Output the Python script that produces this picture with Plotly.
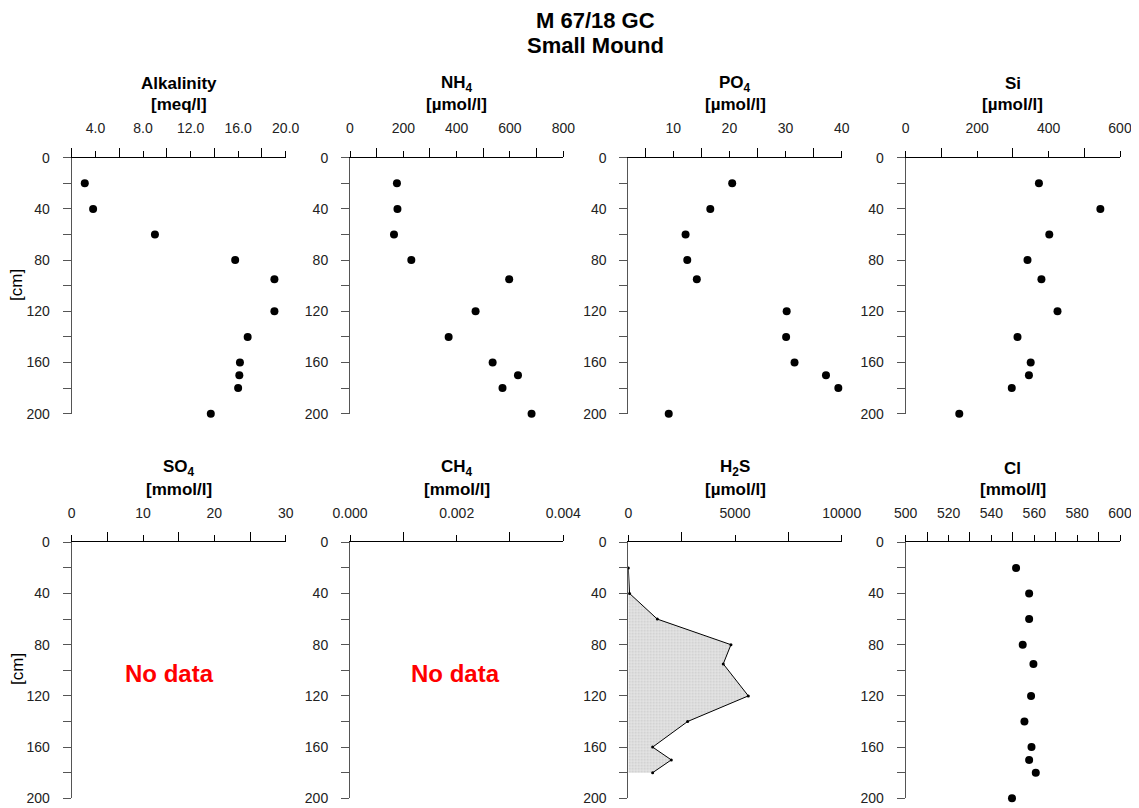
import plotly.graph_objects as go

OFF = 8                      # page body margin of the browser
W, H = 1139 - OFF, 808 - OFF

# ---------------- data ----------------
depth = [20, 40, 60, 80, 95, 120, 140, 160, 170, 180, 200]
alkalinity = [3.1, 3.8, 9.0, 15.75, 19.05, 19.05, 16.8, 16.15, 16.1, 16.0, 13.7]
nh4 = [176, 178, 165, 230, 597, 471, 370, 535, 630, 572, 681]
po4 = [20.5, 16.6, 12.2, 12.5, 14.2, 30.2, 30.1, 31.6, 37.2, 39.4, 9.2]
si = [373, 545, 402, 341, 380, 425, 313, 350, 345, 297, 150]
h2s_depth = [20, 40, 60, 80, 95, 120, 140, 160, 170, 180]
h2s = [0, 60, 1360, 4810, 4450, 5625, 2780, 1140, 2015, 1140]
cl = [551.5, 557.6, 557.6, 554.6, 559.6, 558.5, 555.4, 558.7, 557.6, 560.7, 549.6]

panel_names = ["Alkalinity", "NH<sub>4</sub>", "PO<sub>4</sub>", "Si",
               "SO<sub>4</sub>", "CH<sub>4</sub>", "H<sub>2</sub>S", "Cl"]
panel_units = ["[meq/l]", "[µmol/l]", "[µmol/l]", "[µmol/l]",
               "[mmol/l]", "[mmol/l]", "[µmol/l]", "[mmol/l]"]
x_ranges = [[2, 20], [0, 800], [2, 40], [0, 600],
            [0, 30], [0, 0.004], [0, 10000], [500, 600]]
x_major = [4, 200, 10, 200, 10, 0.002, 5000, 20]
x_minor = [2, 100, 5, 100, 5, 0.001, 2500, 10]
x_format = [".1f", "d", "d", "d", "d", ".3f", "d", "d"]
depth_range = [200, 0]
title_lines = ["M 67/18 GC", "Small Mound"]
no_data_text = "No data"

# ---------------- layout geometry (window pixels) ----------------
col_px = [(71.7, 285.7), (350.0, 563.3), (628.3, 841.7), (905.7, 1120.0)]
row_px = [(157.7, 413.7), (542.3, 798.3)]

FONT = "Liberation Sans, Arial, sans-serif"


def px_x(x):
    return (x - OFF) / W


def px_y(y):
    return 1 - (y - OFF) / H


fig = go.Figure()
layout = dict(
    width=W, height=H,
    margin=dict(l=0, r=0, t=0, b=0, autoexpand=False),
    paper_bgcolor="white", plot_bgcolor="white",
    showlegend=False,
    font=dict(family=FONT, color="#222"),
)

annotations = []
for i in range(8):
    r, c = divmod(i, 4)
    x0, x1 = col_px[c]
    y0, y1 = row_px[r]
    n = i + 1
    xa = "xaxis" if n == 1 else f"xaxis{n}"
    ya = "yaxis" if n == 1 else f"yaxis{n}"
    layout[xa] = dict(
        domain=[px_x(x0), px_x(x1)],
        anchor=f"y{n if n > 1 else ''}",
        side="top",
        range=x_ranges[i],
        tickmode="linear", tick0=0, dtick=x_major[i],
        tickformat=x_format[i],
        ticks="outside", ticklen=6, tickcolor="black", tickwidth=1,
        minor=dict(dtick=x_minor[i], tick0=0, ticks="outside", ticklen=9,
                   tickcolor="black", tickwidth=1),
        showline=True, linecolor="black", linewidth=1,
        showgrid=False, zeroline=False,
        tickfont=dict(size=14, family=FONT, color="#222"),
        ticklabelstandoff=12,
        automargin=False,
        fixedrange=True,
    )
    layout[ya] = dict(
        domain=[px_y(y1), px_y(y0)],
        anchor=f"x{n if n > 1 else ''}",
        range=depth_range,
        tickmode="linear", tick0=0, dtick=40,
        ticks="outside", ticklen=8, tickcolor="#555", tickwidth=1,
        minor=dict(dtick=20, tick0=0, ticks="outside", ticklen=8,
                   tickcolor="#555", tickwidth=1),
        showline=True, linecolor="#555", linewidth=1,
        showgrid=False, zeroline=False,
        tickfont=dict(size=14, family=FONT, color="#222"),
        ticklabelstandoff=10,
        automargin=False,
        fixedrange=True,
    )
    xc = (x0 + x1) / 2
    annotations.append(dict(
        x=px_x(xc), y=px_y(y0 - 74), xref="paper", yref="paper",
        text=f"<b>{panel_names[i]}</b>", showarrow=False,
        xanchor="center", yanchor="middle",
        font=dict(size=17, family=FONT, color="black")))
    annotations.append(dict(
        x=px_x(xc), y=px_y(y0 - 53), xref="paper", yref="paper",
        text=f"<b>{panel_units[i]}</b>", showarrow=False,
        xanchor="center", yanchor="middle",
        font=dict(size=17, family=FONT, color="black")))

# [cm] labels
for yc in [285, 669]:
    annotations.append(dict(
        x=px_x(17), y=px_y(yc), xref="paper", yref="paper",
        text="[cm]", textangle=-90, showarrow=False,
        xanchor="center", yanchor="middle",
        font=dict(size=17, family=FONT, color="black")))

# No data labels
for xc in [169, 455]:
    annotations.append(dict(
        x=px_x(xc), y=px_y(673), xref="paper", yref="paper",
        text=f"<b>{no_data_text}</b>", showarrow=False,
        xanchor="center", yanchor="middle",
        font=dict(size=24, family=FONT, color="#ff0000")))

# main title
annotations.append(dict(
    x=px_x(595), y=px_y(20), xref="paper", yref="paper",
    text=f"<b>{title_lines[0]}</b>", showarrow=False,
    xanchor="center", yanchor="middle",
    font=dict(size=22, family=FONT, color="black")))
annotations.append(dict(
    x=px_x(595), y=px_y(46), xref="paper", yref="paper",
    text=f"<b>{title_lines[1]}</b>", showarrow=False,
    xanchor="center", yanchor="middle",
    font=dict(size=22, family=FONT, color="black")))

layout["annotations"] = annotations
fig.update_layout(**layout)

marker = dict(color="black", size=8)
series = [(alkalinity, 1), (nh4, 2), (po4, 3), (si, 4), (cl, 8)]
for vals, n in series:
    fig.add_trace(go.Scatter(
        x=vals, y=depth, mode="markers", marker=marker,
        xaxis=f"x{n if n > 1 else ''}", yaxis=f"y{n if n > 1 else ''}",
        cliponaxis=False, hoverinfo="x+y"))

# H2S filled profile
fig.add_trace(go.Scatter(
    x=h2s, y=h2s_depth, mode="lines+markers",
    line=dict(color="black", width=1),
    marker=dict(color="black", size=3),
    fill="tozerox", fillcolor="#dedede",
    fillpattern=dict(shape=".", fgcolor="#b0b0b0", bgcolor="#e6e6e6",
                     size=3, solidity=0.4),
    xaxis="x7", yaxis="y7", cliponaxis=False))

# empty traces to keep the SO4 / CH4 axes active
for n in (5, 6):
    fig.add_trace(go.Scatter(x=[None], y=[None], mode="markers",
                             xaxis=f"x{n}", yaxis=f"y{n}"))

fig.write_html("out.html")
